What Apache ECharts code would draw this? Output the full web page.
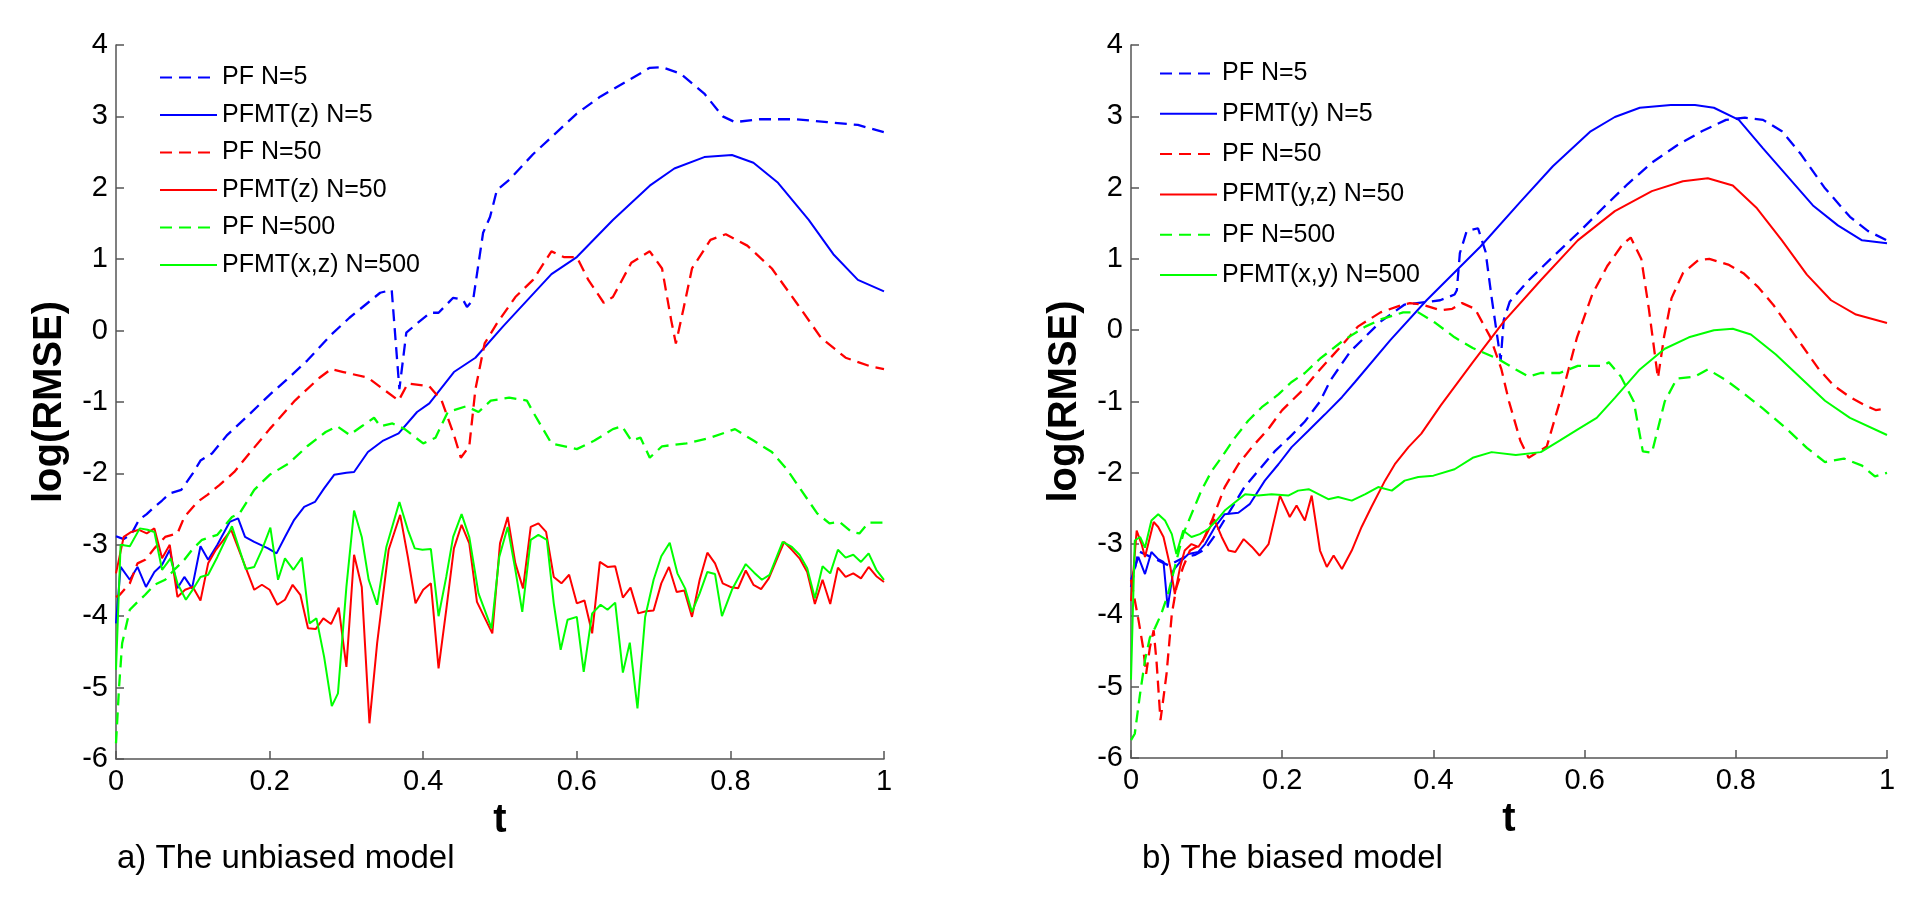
<!DOCTYPE html>
<html>
<head>
<meta charset="utf-8">
<title>log(RMSE) vs t</title>
<script src="https://cdn.jsdelivr.net/npm/echarts@6/dist/echarts.min.js"></script>
<style>
  html, body { margin: 0; padding: 0; background: #fff; }
  #chart { width: 1929px; height: 898px; }
</style>
</head>
<body>
<div id="chart"></div>
<script>
// values, [t, log(RMSE)]
// a) unbiased model
var pf5A = [[0,-2.88],[0.01,-2.92],[0.02,-2.85],[0.03,-2.65],[0.04,-2.57],[0.05,-2.47],[0.06,-2.38],[0.07,-2.28],[0.085,-2.23],[0.1,-2.0],[0.11,-1.82],[0.125,-1.72],[0.145,-1.46],[0.169,-1.22],[0.2,-0.90],[0.225,-0.66],[0.249,-0.42],[0.28,-0.06],[0.304,0.18],[0.328,0.39],[0.344,0.53],[0.359,0.57],[0.364,-0.13],[0.369,-0.82],[0.378,-0.03],[0.392,0.10],[0.409,0.25],[0.42,0.25],[0.439,0.46],[0.452,0.43],[0.457,0.33],[0.465,0.43],[0.478,1.37],[0.487,1.59],[0.496,1.97],[0.512,2.11],[0.543,2.47],[0.567,2.71],[0.6,3.04],[0.631,3.28],[0.663,3.48],[0.695,3.68],[0.711,3.69],[0.735,3.60],[0.766,3.32],[0.79,3.0],[0.806,2.92],[0.838,2.96],[0.886,2.96],[0.926,2.92],[0.966,2.88],[1,2.78]];
var pfmt5A = [[0,-4.1],[0.006,-3.31],[0.018,-3.49],[0.028,-3.31],[0.039,-3.59],[0.05,-3.38],[0.06,-3.28],[0.07,-3.07],[0.08,-3.61],[0.089,-3.45],[0.099,-3.61],[0.11,-3.02],[0.12,-3.21],[0.132,-3.0],[0.148,-2.68],[0.159,-2.63],[0.168,-2.89],[0.18,-2.96],[0.198,-3.05],[0.209,-3.12],[0.22,-2.89],[0.232,-2.65],[0.245,-2.47],[0.259,-2.40],[0.271,-2.21],[0.284,-2.02],[0.3,-1.99],[0.31,-1.98],[0.328,-1.70],[0.348,-1.54],[0.368,-1.44],[0.392,-1.14],[0.408,-1.02],[0.44,-0.58],[0.468,-0.38],[0.504,0.06],[0.567,0.79],[0.6,1.03],[0.647,1.55],[0.695,2.03],[0.727,2.27],[0.766,2.43],[0.802,2.46],[0.83,2.35],[0.862,2.07],[0.902,1.55],[0.934,1.07],[0.966,0.71],[1,0.55]];
var pf50A = [[0,-3.73],[0.005,-3.7],[0.018,-3.54],[0.028,-3.26],[0.038,-3.21],[0.05,-3.05],[0.064,-2.89],[0.08,-2.84],[0.089,-2.61],[0.106,-2.40],[0.119,-2.30],[0.135,-2.16],[0.154,-1.98],[0.169,-1.78],[0.2,-1.38],[0.233,-0.98],[0.265,-0.66],[0.28,-0.54],[0.296,-0.58],[0.328,-0.66],[0.348,-0.82],[0.368,-0.98],[0.38,-0.74],[0.408,-0.78],[0.424,-0.98],[0.44,-1.46],[0.449,-1.78],[0.46,-1.62],[0.468,-0.82],[0.48,-0.18],[0.496,0.10],[0.52,0.47],[0.543,0.71],[0.567,1.11],[0.583,1.03],[0.6,1.03],[0.615,0.71],[0.635,0.39],[0.647,0.47],[0.671,0.95],[0.695,1.11],[0.711,0.87],[0.723,0.14],[0.729,-0.18],[0.739,0.31],[0.75,0.87],[0.774,1.27],[0.794,1.35],[0.822,1.19],[0.854,0.87],[0.886,0.39],[0.918,-0.10],[0.95,-0.38],[0.982,-0.50],[1,-0.54]];
var pfmt50A = [[0,-3.4],[0.01,-2.89],[0.02,-2.82],[0.03,-2.79],[0.04,-2.84],[0.05,-2.77],[0.06,-3.19],[0.07,-3.0],[0.08,-3.73],[0.09,-3.63],[0.1,-3.59],[0.11,-3.78],[0.12,-3.26],[0.13,-3.07],[0.15,-2.79],[0.17,-3.35],[0.18,-3.63],[0.19,-3.56],[0.2,-3.63],[0.21,-3.84],[0.22,-3.77],[0.23,-3.56],[0.24,-3.70],[0.25,-4.17],[0.26,-4.18],[0.27,-4.03],[0.28,-4.11],[0.29,-3.88],[0.3,-4.71],[0.31,-3.14],[0.32,-3.59],[0.33,-5.50],[0.34,-4.38],[0.355,-3.07],[0.37,-2.58],[0.38,-3.17],[0.39,-3.82],[0.4,-3.63],[0.41,-3.54],[0.42,-4.73],[0.43,-3.91],[0.44,-3.05],[0.45,-2.72],[0.46,-2.98],[0.47,-3.80],[0.49,-4.24],[0.5,-2.98],[0.51,-2.61],[0.52,-3.26],[0.53,-3.61],[0.54,-2.75],[0.55,-2.70],[0.56,-2.82],[0.57,-3.45],[0.58,-3.54],[0.59,-3.42],[0.6,-3.82],[0.61,-3.78],[0.62,-4.24],[0.63,-3.24],[0.64,-3.31],[0.65,-3.30],[0.66,-3.74],[0.67,-3.60],[0.68,-3.96],[0.69,-3.93],[0.7,-3.92],[0.71,-3.54],[0.72,-3.31],[0.73,-3.66],[0.74,-3.64],[0.75,-4.01],[0.76,-3.49],[0.77,-3.11],[0.78,-3.26],[0.79,-3.54],[0.8,-3.59],[0.81,-3.61],[0.82,-3.36],[0.83,-3.56],[0.84,-3.62],[0.85,-3.47],[0.87,-2.96],[0.88,-3.07],[0.89,-3.19],[0.9,-3.38],[0.91,-3.83],[0.92,-3.49],[0.93,-3.83],[0.94,-3.32],[0.95,-3.45],[0.96,-3.40],[0.97,-3.47],[0.98,-3.31],[0.99,-3.44],[1,-3.52]];
var pf500A = [[0,-5.78],[0.004,-4.99],[0.008,-4.38],[0.018,-3.91],[0.028,-3.80],[0.038,-3.70],[0.05,-3.56],[0.064,-3.49],[0.076,-3.35],[0.089,-3.21],[0.099,-3.07],[0.112,-2.93],[0.132,-2.86],[0.151,-2.61],[0.161,-2.56],[0.18,-2.23],[0.2,-2.02],[0.225,-1.86],[0.249,-1.62],[0.273,-1.42],[0.288,-1.34],[0.304,-1.46],[0.32,-1.34],[0.336,-1.22],[0.344,-1.34],[0.36,-1.30],[0.376,-1.38],[0.4,-1.58],[0.416,-1.50],[0.432,-1.14],[0.456,-1.06],[0.472,-1.14],[0.488,-0.98],[0.512,-0.94],[0.535,-0.98],[0.543,-1.14],[0.567,-1.58],[0.6,-1.66],[0.623,-1.54],[0.647,-1.38],[0.659,-1.34],[0.671,-1.54],[0.683,-1.50],[0.695,-1.78],[0.711,-1.62],[0.743,-1.58],[0.774,-1.50],[0.806,-1.38],[0.83,-1.54],[0.854,-1.70],[0.874,-1.95],[0.913,-2.56],[0.929,-2.70],[0.942,-2.68],[0.958,-2.82],[0.968,-2.84],[0.98,-2.69],[1,-2.69]];
var pfmt500A = [[0,-4.75],[0.006,-3.0],[0.018,-3.02],[0.031,-2.77],[0.041,-2.79],[0.05,-2.82],[0.06,-3.35],[0.071,-3.19],[0.08,-3.54],[0.091,-3.77],[0.101,-3.61],[0.11,-3.45],[0.12,-3.42],[0.132,-3.17],[0.151,-2.74],[0.169,-3.34],[0.18,-3.31],[0.19,-3.07],[0.201,-2.76],[0.211,-3.49],[0.22,-3.19],[0.231,-3.35],[0.242,-3.18],[0.252,-4.10],[0.261,-4.03],[0.271,-4.57],[0.281,-5.26],[0.289,-5.08],[0.3,-3.59],[0.31,-2.52],[0.32,-2.89],[0.329,-3.49],[0.34,-3.84],[0.352,-3.03],[0.369,-2.40],[0.38,-2.79],[0.389,-3.05],[0.399,-3.07],[0.41,-3.06],[0.42,-4.0],[0.43,-3.45],[0.439,-2.89],[0.45,-2.57],[0.46,-2.89],[0.472,-3.68],[0.489,-4.17],[0.499,-3.17],[0.51,-2.75],[0.52,-3.35],[0.529,-3.94],[0.54,-2.93],[0.55,-2.86],[0.561,-2.93],[0.57,-3.82],[0.579,-4.47],[0.588,-4.05],[0.6,-4.01],[0.609,-4.78],[0.62,-3.96],[0.631,-3.84],[0.64,-3.91],[0.65,-3.81],[0.66,-4.79],[0.669,-4.37],[0.679,-5.29],[0.689,-4.01],[0.7,-3.49],[0.71,-3.16],[0.721,-2.97],[0.731,-3.40],[0.741,-3.61],[0.75,-3.94],[0.76,-3.68],[0.77,-3.38],[0.78,-3.41],[0.789,-4.0],[0.802,-3.63],[0.82,-3.27],[0.831,-3.39],[0.841,-3.49],[0.851,-3.42],[0.868,-2.96],[0.88,-3.03],[0.89,-3.14],[0.9,-3.33],[0.91,-3.75],[0.92,-3.30],[0.93,-3.40],[0.94,-3.07],[0.95,-3.18],[0.96,-3.14],[0.97,-3.24],[0.98,-3.12],[0.99,-3.35],[1,-3.49]];

// b) biased model
var pf5B = [[0,-3.6],[0.01,-3.1],[0.03,-3.2],[0.05,-3.3],[0.071,-3.18],[0.085,-3.15],[0.098,-3.07],[0.111,-2.88],[0.13,-2.55],[0.15,-2.2],[0.17,-1.95],[0.19,-1.7],[0.21,-1.5],[0.23,-1.28],[0.25,-1.0],[0.264,-0.7],[0.29,-0.3],[0.312,-0.07],[0.33,0.12],[0.362,0.36],[0.395,0.40],[0.409,0.42],[0.428,0.5],[0.431,0.56],[0.435,1.08],[0.444,1.39],[0.459,1.43],[0.469,1.10],[0.477,0.46],[0.489,-0.42],[0.493,0.14],[0.501,0.40],[0.526,0.70],[0.558,1.03],[0.591,1.36],[0.624,1.71],[0.657,2.05],[0.689,2.35],[0.722,2.59],[0.755,2.79],[0.787,2.95],[0.812,2.98],[0.836,2.95],[0.861,2.79],[0.886,2.47],[0.918,1.99],[0.951,1.59],[0.975,1.39],[1,1.26]];
var pfmt5B = [[0,-3.5],[0.0097,-3.18],[0.0185,-3.42],[0.027,-3.11],[0.036,-3.21],[0.043,-3.25],[0.0485,-3.89],[0.056,-3.37],[0.065,-3.25],[0.076,-3.14],[0.089,-3.11],[0.098,-3.0],[0.111,-2.76],[0.124,-2.58],[0.142,-2.56],[0.157,-2.44],[0.177,-2.11],[0.195,-1.88],[0.2125,-1.64],[0.2346,-1.41],[0.2566,-1.18],[0.279,-0.94],[0.296,-0.73],[0.343,-0.14],[0.391,0.42],[0.462,1.17],[0.515,1.80],[0.558,2.3],[0.608,2.79],[0.64,2.99],[0.673,3.12],[0.714,3.16],[0.746,3.16],[0.771,3.12],[0.804,2.95],[0.836,2.55],[0.869,2.15],[0.902,1.75],[0.935,1.47],[0.967,1.26],[1,1.22]];
var pf50B = [[0,-3.5],[0.01,-4.07],[0.016,-4.45],[0.02,-4.82],[0.025,-4.45],[0.03,-4.21],[0.034,-4.68],[0.039,-5.47],[0.043,-5.15],[0.047,-4.82],[0.054,-3.98],[0.06,-3.61],[0.069,-3.32],[0.078,-3.09],[0.093,-3.0],[0.107,-2.67],[0.124,-2.20],[0.142,-1.88],[0.16,-1.64],[0.182,-1.38],[0.2,-1.12],[0.226,-0.85],[0.25,-0.55],[0.28,-0.2],[0.3,0.05],[0.33,0.25],[0.36,0.36],[0.369,0.38],[0.385,0.36],[0.409,0.28],[0.425,0.3],[0.438,0.38],[0.455,0.3],[0.475,-0.09],[0.49,-0.55],[0.5,-1.0],[0.515,-1.55],[0.526,-1.79],[0.55,-1.63],[0.57,-0.9],[0.59,-0.1],[0.61,0.5],[0.63,0.9],[0.65,1.2],[0.661,1.30],[0.675,1.0],[0.685,0.3],[0.697,-0.67],[0.705,-0.1],[0.715,0.45],[0.73,0.8],[0.75,0.98],[0.765,1.0],[0.79,0.92],[0.81,0.8],[0.83,0.6],[0.85,0.35],[0.87,0.05],[0.89,-0.25],[0.91,-0.55],[0.93,-0.78],[0.95,-0.93],[0.97,-1.05],[0.985,-1.12],[1,-1.1]];
var pfmt50B = [[0,-3.8],[0.0075,-2.81],[0.014,-3.0],[0.0185,-3.18],[0.03,-2.69],[0.036,-2.76],[0.043,-2.90],[0.052,-3.32],[0.058,-3.70],[0.065,-3.32],[0.071,-3.09],[0.08,-3.0],[0.089,-3.04],[0.098,-2.90],[0.11,-2.65],[0.12,-2.90],[0.129,-3.09],[0.138,-3.11],[0.149,-2.93],[0.16,-3.04],[0.17,-3.16],[0.182,-3.0],[0.197,-2.32],[0.21,-2.62],[0.219,-2.46],[0.23,-2.67],[0.239,-2.32],[0.25,-3.09],[0.259,-3.32],[0.268,-3.16],[0.279,-3.35],[0.292,-3.09],[0.305,-2.76],[0.318,-2.48],[0.336,-2.11],[0.349,-1.88],[0.367,-1.64],[0.384,-1.45],[0.41,-1.05],[0.452,-0.45],[0.493,0.12],[0.542,0.70],[0.591,1.26],[0.64,1.67],[0.689,1.95],[0.73,2.09],[0.763,2.13],[0.796,2.03],[0.828,1.71],[0.861,1.26],[0.894,0.78],[0.926,0.42],[0.959,0.22],[1,0.10]];
var pf500B = [[0,-5.75],[0.005,-5.66],[0.012,-5.10],[0.0185,-4.63],[0.025,-4.31],[0.032,-4.17],[0.04,-3.98],[0.049,-3.70],[0.058,-3.32],[0.069,-2.86],[0.08,-2.58],[0.093,-2.25],[0.107,-1.97],[0.12,-1.78],[0.138,-1.50],[0.155,-1.27],[0.173,-1.08],[0.195,-0.90],[0.212,-0.73],[0.23,-0.6],[0.25,-0.4],[0.28,-0.15],[0.31,0.05],[0.33,0.15],[0.36,0.25],[0.38,0.25],[0.403,0.1],[0.428,-0.1],[0.452,-0.25],[0.485,-0.4],[0.509,-0.55],[0.526,-0.65],[0.542,-0.6],[0.567,-0.6],[0.591,-0.5],[0.624,-0.5],[0.632,-0.45],[0.648,-0.65],[0.665,-1.0],[0.677,-1.7],[0.689,-1.72],[0.706,-1.0],[0.722,-0.68],[0.746,-0.65],[0.763,-0.55],[0.787,-0.7],[0.812,-0.9],[0.836,-1.1],[0.869,-1.4],[0.894,-1.65],[0.918,-1.85],[0.943,-1.8],[0.967,-1.9],[0.984,-2.05],[1,-2.0]];
var pfmt500B = [[0,-4.9],[0.005,-2.95],[0.012,-2.90],[0.0185,-3.05],[0.027,-2.67],[0.036,-2.58],[0.045,-2.67],[0.054,-2.86],[0.06,-3.14],[0.069,-2.81],[0.08,-2.90],[0.091,-2.86],[0.102,-2.79],[0.113,-2.67],[0.124,-2.53],[0.138,-2.41],[0.151,-2.30],[0.168,-2.32],[0.186,-2.30],[0.208,-2.32],[0.221,-2.25],[0.235,-2.23],[0.248,-2.30],[0.261,-2.37],[0.274,-2.34],[0.292,-2.39],[0.31,-2.30],[0.327,-2.20],[0.345,-2.25],[0.362,-2.11],[0.38,-2.06],[0.4,-2.04],[0.428,-1.95],[0.452,-1.79],[0.477,-1.71],[0.509,-1.75],[0.542,-1.71],[0.567,-1.55],[0.591,-1.39],[0.616,-1.23],[0.64,-0.95],[0.673,-0.55],[0.706,-0.26],[0.738,-0.10],[0.771,0.0],[0.796,0.02],[0.82,-0.06],[0.853,-0.34],[0.886,-0.67],[0.918,-0.99],[0.951,-1.23],[1,-1.47]];

var namesA = ['PF N=5', 'PFMT(z) N=5', 'PF N=50', 'PFMT(z) N=50', 'PF N=500', 'PFMT(x,z) N=500'];
var namesB = ['PF N=5', 'PFMT(y) N=5', 'PF N=50', 'PFMT(y,z) N=50', 'PF N=500', 'PFMT(x,y) N=500'];
var captions = ['a) The unbiased model', 'b) The biased model'];

var font = 'Arial, "Liberation Sans", sans-serif';
var colors = ['#0000ff', '#0000ff', '#ff0000', '#ff0000', '#00ff00', '#00ff00'];

function line(name, data, idx, k) {
  var dashed = (k % 2 == 0);
  return {
    name: name,
    type: 'line',
    xAxisIndex: idx,
    yAxisIndex: idx,
    data: data,
    symbol: 'none',
    silent: true,
    z: 2 + k,
    lineStyle: { color: colors[k], width: dashed ? 2.3 : 2, type: dashed ? [12, 7] : 'solid' },
    itemStyle: { color: colors[k] }
  };
}

function xAx(idx) {
  return {
    gridIndex: idx, type: 'value', min: 0, max: 1, interval: 0.2,
    name: 't', nameLocation: 'middle', nameGap: 38,
    nameTextStyle: { fontSize: 40, fontWeight: 'bold', color: '#000', fontFamily: font },
    axisLine: { show: true, onZero: false, lineStyle: { color: '#555', width: 1.5 } },
    axisTick: { show: true, inside: true, length: 8, lineStyle: { color: '#555', width: 1.5 } },
    axisLabel: { fontSize: 29, color: '#000', margin: 8, fontFamily: font },
    splitLine: { show: false }
  };
}

function yAx(idx) {
  return {
    gridIndex: idx, type: 'value', min: -6, max: 4, interval: 1,
    name: 'log(RMSE)', nameLocation: 'middle', nameGap: 46,
    nameTextStyle: { fontSize: 40, fontWeight: 'bold', color: '#000', fontFamily: font },
    axisLine: { show: true, onZero: false, lineStyle: { color: '#555', width: 1.5 } },
    axisTick: { show: true, inside: true, length: 8, lineStyle: { color: '#555', width: 1.5 } },
    axisLabel: { fontSize: 29, color: '#000', margin: 8, fontFamily: font },
    splitLine: { show: false }
  };
}

function legend(names, left, top, gap) {
  return {
    data: names, orient: 'vertical', left: left, top: top,
    itemWidth: 57, itemHeight: 14, itemGap: gap, padding: 0,
    selectedMode: false,
    itemStyle: { opacity: 0 },
    textStyle: { fontSize: 25, color: '#000', fontFamily: font, lineHeight: 22 }
  };
}

var seriesA = [pf5A, pfmt5A, pf50A, pfmt50A, pf500A, pfmt500A];
var seriesB = [pf5B, pfmt5B, pf50B, pfmt50B, pf500B, pfmt500B];
var series = [];
for (var k = 0; k < 6; k++) series.push(line(namesA[k], seriesA[k], 0, k));
for (var k = 0; k < 6; k++) series.push(line(namesB[k], seriesB[k], 1, k));

var myChart = echarts.init(document.getElementById('chart'));
var option = {
  animation: false,
  backgroundColor: '#fff',
  title: [
    { text: captions[0], left: 117, top: 842, padding: 0, textStyle: { fontSize: 33, fontWeight: 'normal', color: '#000', fontFamily: font } },
    { text: captions[1], left: 1142, top: 842, padding: 0, textStyle: { fontSize: 33, fontWeight: 'normal', color: '#000', fontFamily: font } }
  ],
  legend: [legend(namesA, 159, 65, 12.5), legend(namesB, 1159, 61, 15.3)],
  grid: [
    { left: 116, top: 45, width: 768, height: 714 },
    { left: 1131, top: 45, width: 756, height: 713 }
  ],
  xAxis: [xAx(0), xAx(1)],
  yAxis: [yAx(0), yAx(1)],
  series: series
};
myChart.setOption(option);
</script>
</body>
</html>
